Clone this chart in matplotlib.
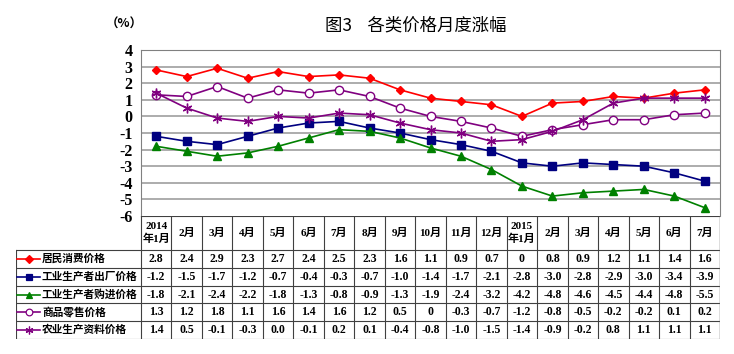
# Monthly price changes, Jan 2014 - Jul 2015, chart with data table underneath

import matplotlib
matplotlib.use('Agg')
import matplotlib.pyplot as plt

plt.rcParams['font.family'] = ['Liberation Serif', 'Noto Sans CJK SC']

months = ['2014\n年1月', '2月', '3月', '4月', '5月', '6月', '7月', '8月', '9月', '10月',
          '11月', '12月', '2015\n年1月', '2月', '3月', '4月', '5月', '6月', '7月']

# values as printed in the table
cpi = ['2.8', '2.4', '2.9', '2.3', '2.7', '2.4', '2.5', '2.3', '1.6', '1.1',
       '0.9', '0.7', '0', '0.8', '0.9', '1.2', '1.1', '1.4', '1.6']
ppi_out = ['-1.2', '-1.5', '-1.7', '-1.2', '-0.7', '-0.4', '-0.3', '-0.7', '-1.0', '-1.4',
           '-1.7', '-2.1', '-2.8', '-3.0', '-2.8', '-2.9', '-3.0', '-3.4', '-3.9']
ppi_in = ['-1.8', '-2.1', '-2.4', '-2.2', '-1.8', '-1.3', '-0.8', '-0.9', '-1.3', '-1.9',
          '-2.4', '-3.2', '-4.2', '-4.8', '-4.6', '-4.5', '-4.4', '-4.8', '-5.5']
retail = ['1.3', '1.2', '1.8', '1.1', '1.6', '1.4', '1.6', '1.2', '0.5', '0',
          '-0.3', '-0.7', '-1.2', '-0.8', '-0.5', '-0.2', '-0.2', '0.1', '0.2']
agri = ['1.4', '0.5', '-0.1', '-0.3', '0.0', '-0.1', '0.2', '0.1', '-0.4', '-0.8',
        '-1.0', '-1.5', '-1.4', '-0.9', '-0.2', '0.8', '1.1', '1.1', '1.1']

names = ['居民消费价格', '工业生产者出厂价格', '工业生产者购进价格', '商品零售价格', '农业生产资料价格']
series = [cpi, ppi_out, ppi_in, retail, agri]

styles = [
    dict(color='#ff0000', marker='D', ms=4.5, mfc='#ff0000'),
    dict(color='#000080', marker='s', ms=5.5, mfc='#000080'),
    dict(color='#008000', marker='^', ms=5.5, mfc='#008000'),
    dict(color='#800080', marker='o', ms=6, mfc='white'),
    dict(color='#800080', marker=(6, 2, 0), ms=7, mfc='#800080'),
]

W, H = 734, 354
fig = plt.figure(figsize=(W / 100, H / 100), dpi=100)

# chart area (pixel layout of the reference)
L, R, T, B = 141, 720, 50, 216
ax = fig.add_axes([L / W, 1 - B / H, (R - L) / W, (B - T) / H])
x = [i + 0.5 for i in range(len(months))]
for vals, st in zip(series, styles):
    ax.plot(x, [float(v) for v in vals], lw=1.2, color=st['color'], marker=st['marker'],
            ms=st['ms'], mfc=st['mfc'], mec=st['color'], mew=1.0, zorder=3)

ax.set_xlim(0, len(months))
ax.set_ylim(-6, 4)
ax.set_yticks(range(-6, 5))
ax.set_yticklabels([str(v) for v in range(-6, 5)], fontsize=11.5, fontweight='bold')
ax.set_xticks([])
ax.tick_params(axis='y', length=0, pad=6)
for yv in range(-5, 4):
    ax.axhline(yv, color='#a6a6a6', lw=1.3, zorder=1)
for s in ax.spines.values():
    s.set_color('#808080')
ax.spines['bottom'].set_visible(False)

fig.text(325 / W, 1 - 26 / H, '图3    各类价格月度涨幅', fontsize=12.5,
         va='center', ha='left', family=['Noto Sans CJK SC'])
fig.text(106 / W, 1 - 24 / H, '（%）', fontsize=9, fontweight='bold', va='center', ha='left',
         family=['Noto Sans CJK SC'])

# data table
TL, TB = 16, 339
tax = fig.add_axes([TL / W, 1 - TB / H, (R - TL) / W, (TB - B) / H])
tax.set_xlim(0, R - TL)
tax.set_ylim(TB - B, 0)
tax.axis('off')

lab_w = L - TL
col_w = (R - L) / len(months)
head_h = 34
row_h = (TB - B - head_h) / len(series)
lc = '#404040'

for j in range(len(months) + 1):
    tax.plot([lab_w + j * col_w] * 2, [0, TB - B], color=lc, lw=0.8)
tax.plot([0, 0], [head_h, TB - B], color=lc, lw=0.8)
tax.plot([lab_w, R - TL], [0, 0], color=lc, lw=0.8)
for k in range(len(series) + 1):
    yy = head_h + k * row_h
    tax.plot([0, R - TL], [yy, yy], color=lc, lw=0.8)
tax.plot([R - TL, R - TL], [0, TB - B], color='#808080', lw=1.0)

for j, m in enumerate(months):
    tax.text(lab_w + (j + 0.5) * col_w, head_h / 2, m, ha='center', va='center',
             fontsize=8, fontweight='bold', linespacing=1.3)

for k, (name, vals, st) in enumerate(zip(names, series, styles)):
    yc = head_h + (k + 0.5) * row_h
    tax.plot([1, 24], [yc, yc], color=st['color'], lw=1.2)
    tax.plot([12.5], [yc], marker=st['marker'], ms=st['ms'] * 0.8, color=st['color'],
             mfc=st['mfc'], mec=st['color'], mew=0.9)
    tax.text(26, yc, name, ha='left', va='center', fontsize=7.7, fontweight='bold',
             family=['Noto Sans CJK SC'])
    for j, v in enumerate(vals):
        tax.text(lab_w + (j + 0.5) * col_w, yc, v, ha='center', va='center',
                 fontsize=8.5, fontweight='bold')

fig.savefig('out.png', dpi=100)
